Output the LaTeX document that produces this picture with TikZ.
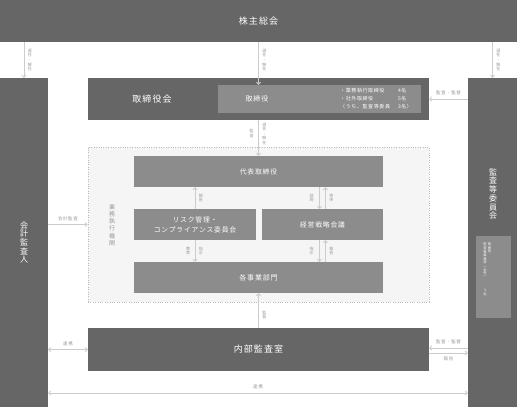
\documentclass[tikz,border=0pt]{standalone}
\usepackage{fontspec}
\setmainfont{Noto Sans CJK JP}[LetterSpace=12]
\usetikzlibrary{arrows.meta,positioning}
\definecolor{boxdark}{HTML}{666666}
\definecolor{boxmid}{HTML}{8C8C8C}
\definecolor{linegray}{HTML}{CCCCCC}
\definecolor{labgray}{HTML}{999999}
\definecolor{execbg}{HTML}{F5F5F5}
\definecolor{execline}{HTML}{BBBBBB}
\begin{document}
\begin{tikzpicture}[x=1pt,y=-1pt,>={Straight Barb[length=2pt,width=4pt]},
  dark/.style={fill=boxdark,draw=none,text=white,inner sep=0pt},
  mid/.style={fill=boxmid,draw=none,text=white,inner sep=0pt},
  conn/.style={draw=linegray,line width=0.9pt,->},
  both/.style={draw=linegray,line width=0.9pt,<->},
  lab/.style={text=labgray,font=\fontsize{4}{4.6}\selectfont,align=center,inner sep=0.5pt},
  hlab/.style={text=labgray,font=\fontsize{4.5}{5}\selectfont,inner sep=0.5pt}]
\useasboundingbox (0,0) rectangle (517,407);

\node[dark,minimum width=517pt,minimum height=42pt,font=\fontsize{9}{10}\selectfont] (kabu) at (258.5,21) {株主総会};
\node[dark,minimum width=48pt,minimum height=329pt,align=center,font=\fontsize{8}{8.6}\selectfont] (kaikei) at (24,242.5) {会\\計\\監\\査\\人};
\node[dark,minimum width=49pt,minimum height=329pt] (kansa) at (492.5,242.5) {};
\node[text=white,align=center,inner sep=0pt,font=\fontsize{8}{8.7}\selectfont] (kansat) at (493,194) {監\\査\\等\\委\\員\\会};
\node[mid,minimum width=35pt,minimum height=82pt] (kansain) at (493.5,277) {};
\node[text=white,align=center,anchor=north,inner sep=0pt,font=\fontsize{3.3}{3.6}\selectfont] (kansa1) at (489.5,243) {取\\締\\役};
\node[text=white,align=center,anchor=north,inner sep=0pt,font=\fontsize{3.3}{3.6}\selectfont] (kansa2) at (485,243) {監\\査\\等\\委\\員\\会\\︵\\社\\外\\︶\\[10pt]3\\名};

\node[dark,minimum width=341pt,minimum height=42pt] (torikai) at (258.5,99) {};
\node[text=white,inner sep=0pt,font=\fontsize{9}{10}\selectfont] (torikait) at (152,99) {取締役会};
\node[mid,minimum width=203pt,minimum height=28pt] (tori) at (319.5,99) {};
\node[text=white,inner sep=0pt,font=\fontsize{7}{8}\selectfont] (torit) at (257,99) {取締役};
\node[anchor=west,text=white,inner sep=0pt,font=\fontsize{5}{8}\selectfont] (toriinfo) at (340,99)
  {\begin{tabular}{@{}l@{\hspace{8pt}}l@{}}・業務執行取締役 & 4名\\ ・社外取締役 & 5名\\ （うち、監査等委員 & 3名）\end{tabular}};

\node[fill=execbg,draw=execline,line width=0.6pt,dash pattern=on 0.8pt off 1.6pt,minimum width=341pt,minimum height=155pt,inner sep=0pt] (exec) at (258.5,224.5) {};
\node[text=labgray,align=center,inner sep=0pt,font=\fontsize{6}{7.3}\selectfont] (exect) at (112,225) {業\\務\\執\\行\\機\\関};
\node[mid,minimum width=249pt,minimum height=31pt,font=\fontsize{6.8}{8}\selectfont] (dai) at (258.5,171.5) {代表取締役};
\node[mid,minimum width=122pt,minimum height=31pt,align=center,font=\fontsize{6.8}{10}\selectfont] (risk) at (195,224.5) {リスク管理・\\コンプライアンス委員会};
\node[mid,minimum width=121pt,minimum height=31pt,font=\fontsize{6.8}{8}\selectfont] (keiei) at (322.5,224.5) {経営戦略会議};
\node[mid,minimum width=249pt,minimum height=31pt,font=\fontsize{7}{8}\selectfont] (jigyo) at (258.5,277.5) {各事業部門};
\node[dark,minimum width=341pt,minimum height=43pt,font=\fontsize{9}{10}\selectfont] (naibu) at (258.5,349.5) {内部監査室};

\coordinate (kl) at ([xshift=-3pt]keiei.north);
\coordinate (kr) at ([xshift=3pt]keiei.north);
\coordinate (nu) at ([yshift=1.5pt]naibu.east);
\coordinate (nd) at ([yshift=-3.5pt]naibu.east);
\coordinate (ren) at (258.5,393);

\draw[conn] (kabu.south -| kaikei.north) -- node[lab,right=3pt] (l1) {選\\任\\・\\解\\任} (kaikei.north);
\draw[conn] (kabu.south -| dai.north) -- node[lab,right=3pt,pos=0.42] (l2) {選\\任\\・\\解\\任} (tori.north -| dai.north);
\draw[conn] (kabu.south -| kansa.north) -- node[lab,right=3pt] (l3) {選\\任\\・\\解\\任} (kansa.north);
\draw[conn] (kansa.west |- torikai.east) -- node[hlab,above=3pt] (l4) {監査・監督} (torikai.east);
\draw[conn] (torikai.south) -- node[lab,pos=0.38,left=4pt] (l5) {監\\督} node[lab,pos=0.38,right=3pt] (l6) {選\\任\\・\\解\\任} (dai.north);
\draw[conn] (kaikei.east |- exec.west) -- node[hlab,above=3pt] (l7) {会計監査} (exec.west);

\draw[conn] (risk.north) -- node[lab,right=3pt] (l8) {報\\告} (dai.south -| risk.north);
\draw[conn] (risk.south) -- node[lab,left=4pt] (l9) {教\\育} node[lab,right=3pt] (l10) {指\\示} (jigyo.north -| risk.south);
\draw[conn] (dai.south -| kl) -- node[lab,left=5pt] (l11) {諮\\問} (kl);
\draw[conn] (kr) -- node[lab,right=3pt] (l12) {答\\申} (dai.south -| kr);
\draw[conn] (keiei.south -| kl) -- node[lab,left=5pt] (l13) {指\\示} (jigyo.north -| kl);
\draw[conn] (jigyo.north -| kr) -- node[lab,right=3pt] (l14) {報\\告} (keiei.south -| kr);
\draw[conn] (naibu.north) -- node[lab,pos=0.37,right=3pt] (l15) {監\\督} (jigyo.south);

\draw[both] (kaikei.east |- naibu.west) -- node[hlab,above=3pt] (l16) {連携} (naibu.west);
\draw[conn] (kansa.west |- nu) -- node[hlab,above=3pt] (l17) {監査・監督} (nu);
\draw[conn] (nd) -- node[hlab,below=3pt] (l18) {報告} (kansa.west |- nd);
\draw[both] (kaikei.east |- ren) -- node[hlab,above=3pt] (l19) {連携} (kansa.west |- ren);
\end{tikzpicture}
\end{document}
